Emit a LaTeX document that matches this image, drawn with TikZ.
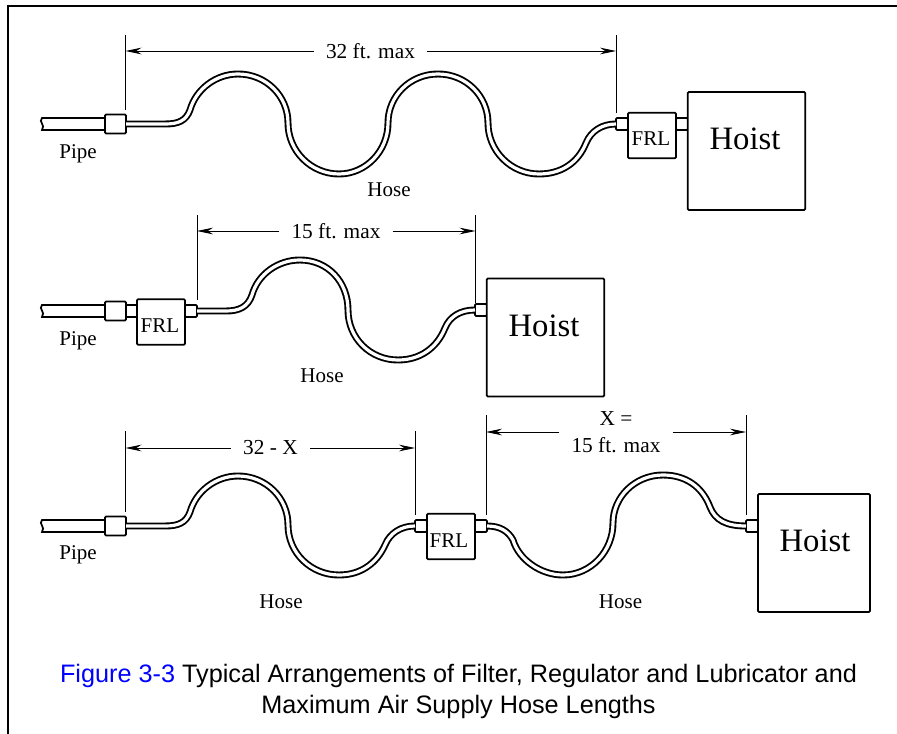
\documentclass[tikz,border=0pt]{standalone}
\usepackage{fontspec}
\setmainfont{Liberation Serif}
\newfontfamily\capfont{Liberation Sans}
\usetikzlibrary{arrows.meta}
\definecolor{figblue}{RGB}{0,0,255}
\tikzset{
    part/.style={draw, line width=1.3pt, fill=white, rounded corners=0.8pt, inner sep=0pt, outer sep=0pt},
    fitting/.style={part, minimum width=15.75pt, minimum height=14.25pt},
    conn/.style={part, minimum width=9pt, minimum height=9pt},
    frlbox/.style={part, minimum width=36pt, minimum height=34pt},
    hoistbox/.style={part, minimum width=88pt, minimum height=88.5pt},
    hose/.style={double, double distance=2.4pt, line width=1.4pt},
    pipeline/.style={line width=1.3pt},
    labeltext/.style={font=\fontsize{15.75}{18}\selectfont, inner sep=0pt},
    hoisttext/.style={font=\fontsize{24.5}{28}\selectfont, inner sep=0pt},
    dimtext/.style={font=\fontsize{16}{20.25}\selectfont, align=center, inner ysep=0pt, inner xsep=9pt},
    dimline/.style={line width=0.7pt},
    caption/.style={font=\capfont\fontsize{18.93}{23.25}\selectfont, align=center, inner sep=0pt}
}
\begin{document}
\begin{tikzpicture}[>={Stealth[length=12pt,width=5pt]}, x=0.75pt, y=-0.75pt]
    \useasboundingbox (0,0) rectangle (897,734);
    % frame
    \coordinate (frameA) at (7.5,734);
    \coordinate (frameB) at (7.5,6.5);
    \coordinate (frameC) at (897,6.5);
    \draw[line width=1.5pt] (frameA) -- (frameB) -- (frameC);

    % top arrangement
    \draw[pipeline] (105,118) -- (42,118) .. controls (38,122) and (46,125) .. (42,130) -- (105,130);
    \node[fitting] (fitA) at (115.5,124) {};
    \node[conn] (connA) at (622,124) {};
    \node[frlbox] (frlA) at (652,135.5) {};
    \node[conn] (connB) at (682,124) {};
    \node[hoistbox] (hoistA) at (746.5,151) {};
    \draw[hose] (fitA.east) -- (165,124)
        .. controls (178,124) and (186,121) .. (190,110)
        .. controls (196,89) and (216,74) .. (238,74)
        .. controls (266,74) and (288,96) .. (288,123)
        .. controls (288,151) and (311,174) .. (339,174)
        .. controls (366,174) and (388,151) .. (388,123)
        .. controls (388,96) and (410,74) .. (438,74)
        .. controls (466,74) and (488,96) .. (488,123)
        .. controls (488,151) and (511,174) .. (539,174)
        .. controls (561,174) and (578,163) .. (586,143)
        .. controls (591,131) and (602,124) .. (connA.west);
    \node[labeltext] (frltextA) at (651,138.5) {FRL};
    \node[hoisttext] (hoisttextA) at (745,139) {Hoist};
    \node[labeltext] (pipetextA) at (78,154) {Pipe};
    \node[labeltext] (hosetextA) at (389,190) {Hose};
    \coordinate (extAa) at (125.5,35);
    \coordinate (extAb) at (125.5,110);
    \coordinate (extBa) at (616,35);
    \coordinate (extBb) at (616,113);
    \draw[dimline] (extAa) -- (extAb);
    \draw[dimline] (extBa) -- (extBb);
    \node[dimtext] (dimA) at (370.5,51) {32 ft. max};
    \draw[dimline, ->] (dimA) -- (extAa |- dimA);
    \draw[dimline, ->] (dimA) -- (extBa |- dimA);

    % middle arrangement
    \draw[pipeline] (105,305) -- (42,305) .. controls (38,309) and (46,312) .. (42,317) -- (105,317);
    \node[conn] (connC) at (131.5,311) {};
    \node[fitting] (fitB) at (115.5,311) {};
    \node[frlbox] (frlB) at (161,322) {};
    \node[conn] (connD) at (191,311) {};
    \node[conn] (connE) at (481,310) {};
    \node[hoistbox] (hoistB) at (545.5,337.5) {};
    \draw[hose] (connD.east) -- (226,311)
        .. controls (239,311) and (248,307) .. (252,295)
        .. controls (258,274) and (278,260) .. (300,260)
        .. controls (328,260) and (348,282) .. (348,310)
        .. controls (348,338) and (370,360) .. (398,360)
        .. controls (420,360) and (437,348) .. (445,328)
        .. controls (450,316) and (461,310) .. (connE.west);
    \node[labeltext] (frltextB) at (160,325.5) {FRL};
    \node[hoisttext] (hoisttextB) at (544,326) {Hoist};
    \node[labeltext] (pipetextB) at (78,341) {Pipe};
    \node[labeltext] (hosetextB) at (322,376) {Hose};
    \coordinate (extCa) at (197,215);
    \coordinate (extCb) at (197,300);
    \coordinate (extDa) at (475.5,215);
    \coordinate (extDb) at (475.5,303);
    \draw[dimline] (extCa) -- (extCb);
    \draw[dimline] (extDa) -- (extDb);
    \node[dimtext] (dimB) at (336,231) {15 ft. max};
    \draw[dimline, ->] (dimB) -- (extCa |- dimB);
    \draw[dimline, ->] (dimB) -- (extDa |- dimB);

    % bottom arrangement
    \draw[pipeline] (105,520) -- (42,520) .. controls (38,524) and (46,527) .. (42,532) -- (105,532);
    \node[fitting] (fitC) at (115.5,526) {};
    \node[conn] (connF) at (421,526) {};
    \node[frlbox] (frlC) at (451,536.5) {};
    \node[conn] (connG) at (481,526) {};
    \node[conn] (connH) at (752,526) {};
    \node[hoistbox] (hoistC) at (814,553) [minimum width=84pt] {};
    \draw[hose] (fitC.east) -- (165,526)
        .. controls (178,526) and (186,523) .. (190,512)
        .. controls (196,491) and (216,476) .. (238,476)
        .. controls (266,476) and (288,498) .. (288,525)
        .. controls (288,553) and (311,575) .. (339,575)
        .. controls (361,575) and (377,563) .. (385,545)
        .. controls (390,533) and (401,526) .. (connF.west);
    \draw[hose] (connG.east) .. controls (500,526) and (508,531) .. (513,540)
        .. controls (519,560) and (541,575) .. (563,575)
        .. controls (591,575) and (613,551) .. (613,523)
        .. controls (613,497) and (635,475) .. (663,475)
        .. controls (685,475) and (702,486) .. (710,507)
        .. controls (715,520) and (726,526) .. (connH.west);
    \node[labeltext] (frltextC) at (449,540.5) {FRL};
    \node[hoisttext] (hoisttextC) at (815,541) {Hoist};
    \node[labeltext] (pipetextC) at (78,555) {Pipe};
    \node[labeltext] (hosetextC) at (281,602) {Hose};
    \node[labeltext] (hosetextD) at (620.5,602) {Hose};
    \coordinate (extEa) at (125.5,431);
    \coordinate (extEb) at (125.5,512);
    \coordinate (extFa) at (415,431);
    \coordinate (extFb) at (415,515);
    \coordinate (extGa) at (486,415);
    \coordinate (extGb) at (486,515);
    \coordinate (extHa) at (746,415);
    \coordinate (extHb) at (746,515);
    \draw[dimline] (extEa) -- (extEb);
    \draw[dimline] (extFa) -- (extFb);
    \draw[dimline] (extGa) -- (extGb);
    \draw[dimline] (extHa) -- (extHb);
    \node[dimtext] (dimC) at (270.5,448) {32 - X};
    \draw[dimline, ->] (dimC) -- (extEa |- dimC);
    \draw[dimline, ->] (dimC) -- (extFa |- dimC);
    \node[dimtext] (dimD) at (616,432) {X =\\15 ft. max};
    \draw[dimline, ->] (dimD) -- (extGa |- dimD);
    \draw[dimline, ->] (dimD) -- (extHa |- dimD);

    % caption
    \node[caption] (captext) at (458.5,691) {\textcolor{figblue}{Figure 3-3} Typical Arrangements of Filter, Regulator and Lubricator and\\Maximum Air Supply Hose Lengths};
\end{tikzpicture}
\end{document}
